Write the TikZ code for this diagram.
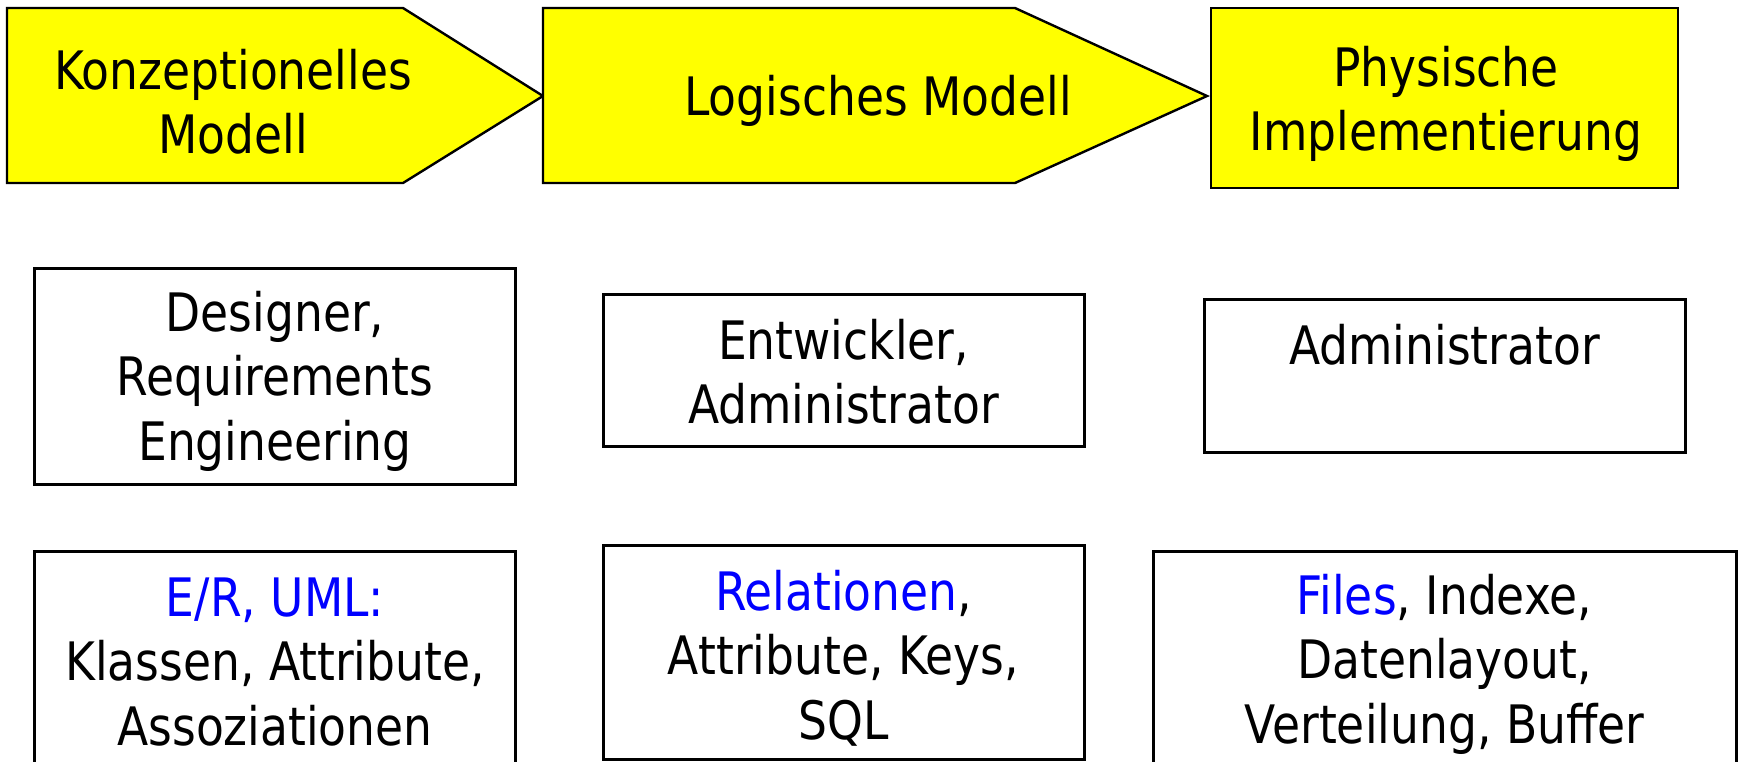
\documentclass[tikz,border=0pt]{standalone}
\usepackage{fontspec}
\setmainfont{DejaVu Sans}[FakeStretch=0.86]
\definecolor{stageyellow}{RGB}{255,255,0}
\definecolor{termblue}{RGB}{0,0,255}
\begin{document}
\begin{tikzpicture}[x=0.5pt,y=-0.5pt,
  stage/.style={draw=black, line width=1.2pt, fill=stageyellow, line join=miter},
  infobox/.style={draw=black, line width=1.5pt, fill=white, inner sep=0pt,
    minimum width=240.5pt},
  txt/.style={font=\fontsize{26.5}{32.2}\selectfont, align=center, inner sep=0pt}
]
\useasboundingbox (0,0) rectangle (1745,761);
\fill[white] (0,0) rectangle (1745,761);

% phase arrows
\draw[stage] (7,8) -- (403,8) -- (543,96) -- (403,183) -- (7,183) -- cycle;
\draw[stage] (543,8) -- (1015,8) -- (1207,96) -- (1015,183) -- (543,183) -- cycle;
\draw[stage] (1211,8) rectangle (1678,188);

\node[txt] (konz) at (233,102) {Konzeptionelles\\Modell};
\node[txt] (logi) at (878,101) {Logisches Modell};
\node[txt] (phys) at (1446,104) {Physische\\Implementierung};

% roles
\node[infobox, minimum height=108pt] (roleA) at (275,376) {};
\node[infobox, minimum height=76pt] (roleB) at (843.5,370) {};
\node[infobox, minimum height=76.5pt] (roleC) at (1444.5,375.5) {};
\node[txt] (roleAtxt) at (275,381) {Designer,\\Requirements\\Engineering};
\node[txt] (roleBtxt) at (843.5,372) {Entwickler,\\Administrator};
\node[txt] (roleCtxt) at (1444.5,345) {Administrator};

% artefacts
\node[infobox, minimum height=111pt] (artA) at (275,662) {};
\node[infobox, minimum height=107pt] (artB) at (843.5,652) {};
\node[infobox, minimum height=111pt, minimum width=291.5pt] (artC) at (1444.5,662) {};
\node[txt] (artAtxt) at (275,662)
  {\textcolor{termblue}{E/R, UML:}\\Klassen, Attribute,\\Assoziationen};
\node[txt] (artBtxt) at (843.5,658)
  {\textcolor{termblue}{Relationen},\\Attribute, Keys,\\SQL};
\node[txt] (artCtxt) at (1444.5,664)
  {\textcolor{termblue}{Files}, Indexe,\\Datenlayout,\\Verteilung, Buffer};
\end{tikzpicture}
\end{document}
